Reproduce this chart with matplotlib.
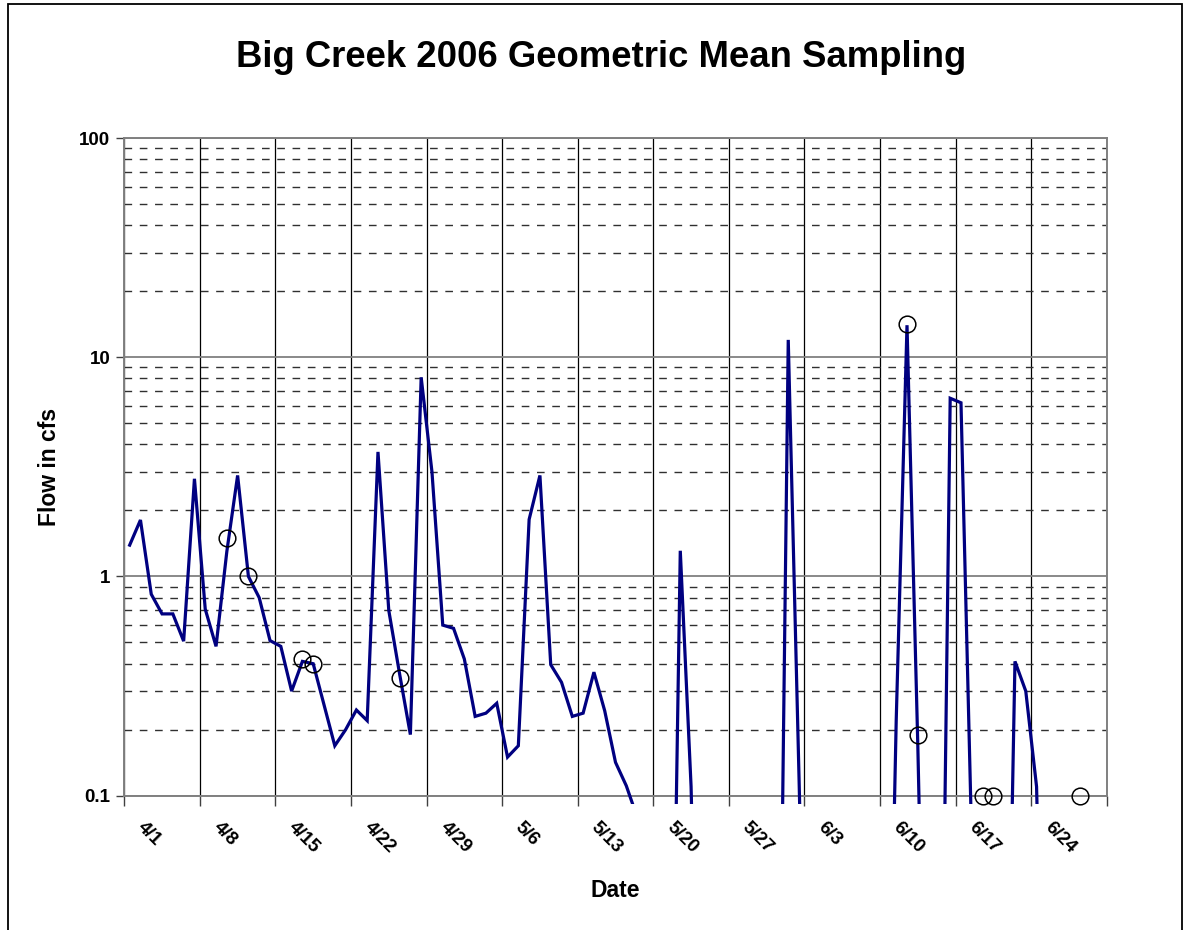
import numpy as np
import pandas as pd
import matplotlib
matplotlib.use("Agg")
import matplotlib.pyplot as plt
import matplotlib.dates as mdates
import matplotlib.transforms as mtransforms
from matplotlib.patches import Rectangle
from matplotlib.ticker import FixedLocator, FixedFormatter, NullFormatter

plt.rcParams['font.family'] = ['Liberation Sans', 'DejaVu Sans']
plt.rcParams['font.weight'] = 'bold'

# daily flow (cfs), starting 4/1/2006 -- values below 0.1 are off the chart
start = "2006-04-01"
flow = [1.39, 1.81, 0.83, 0.675, 0.675, 0.507, 2.79, 0.71, 0.48, 1.3,
        2.89, 1.0, 0.80, 0.51, 0.48, 0.30, 0.41, 0.40, 0.26, 0.169,
        0.20, 0.246, 0.22, 3.70, 0.70, 0.36, 0.19, 8.1, 3.0, 0.60,
        0.58, 0.42, 0.23, 0.238, 0.264, 0.15, 0.169, 1.82, 2.89, 0.396,
        0.329, 0.23, 0.238, 0.366, 0.244, 0.142, 0.111, 0.08, 0.001, 0.001,
        0.001, 1.31, 0.11, 0.001, 0.001, 0.001, 0.001, 0.001, 0.001, 0.001,
        0.001, 12.0, 0.12, 0.001, 0.001, 0.001, 0.001, 0.001, 0.001, 0.001,
        0.001, 0.22, 14.0, 0.17, 0.001, 0.001, 6.5, 6.2, 0.06, 0.001,
        0.001, 0.001, 0.41, 0.30, 0.11, 0.001, 0.001, 0.001, 0.001, 0.001,
        0.001]

# geometric mean samples
sample_dates = ["4/10", "4/12", "4/17", "4/18", "4/26", "6/12", "6/13", "6/19", "6/20", "6/28"]
sample_vals = [1.5, 1.0, 0.42, 0.40, 0.345, 14.2, 0.19, 0.1, 0.1, 0.1]

week_labels = ["4/1", "4/8", "4/15", "4/22", "4/29", "5/6", "5/13", "5/20",
               "5/27", "6/3", "6/10", "6/17", "6/24", ""]

flow_x = mdates.date2num(pd.date_range(start, periods=len(flow)) + pd.Timedelta(hours=12))
samp_x = mdates.date2num([pd.Timestamp("2006/" + d) + pd.Timedelta(hours=12) for d in sample_dates])
tick_x = mdates.date2num(pd.date_range(start, periods=len(week_labels), freq="7D"))

fig = plt.figure(figsize=(11.88, 9.30), dpi=100)
fig.patches.append(Rectangle((0.0065, -0.05), 0.9885, 1.046, transform=fig.transFigure,
                             fill=False, edgecolor="black", linewidth=1.3))

ax = fig.add_axes([0.1046, 0.1444, 0.8270, 0.7072])
ax.set_yscale("log")
ax.set_ylim(0.1, 100)
ax.set_xlim(tick_x[0], tick_x[-1])

ln, = ax.plot(flow_x, flow, color="#000080", linewidth=2.3, zorder=3,
              solid_joinstyle="miter")
clip = Rectangle((0, -0.013), 1, 1.013, transform=ax.transAxes, visible=False)
ax.add_patch(clip)
ln.set_clip_path(clip)

ax.plot(samp_x, sample_vals, linestyle="none", marker="o", markersize=12,
        markerfacecolor="none", markeredgecolor="black", markeredgewidth=1.1,
        zorder=4, clip_on=False)

# gridlines
ax.yaxis.set_major_locator(FixedLocator([0.1, 1, 10, 100]))
ax.yaxis.set_major_formatter(FixedFormatter(["0.1", "1", "10", "100"]))
ax.yaxis.set_minor_locator(FixedLocator([m * 10.0 ** e for e in (-1, 0, 1) for m in range(2, 10)]))
ax.yaxis.set_minor_formatter(NullFormatter())
ax.grid(True, axis="y", which="major", color="#808080", linewidth=1.3)
ax.grid(True, axis="y", which="minor", color="#303030", linewidth=1.0, linestyle=(0, (5.5, 5.5)))
ax.set_xticks(tick_x)
ax.set_xticklabels(week_labels, rotation=-45, ha="left", va="center",
                   rotation_mode="anchor", fontsize=13.5, fontweight="bold")
ax.grid(True, axis="x", which="major", color="black", linewidth=0.9)
ax.set_axisbelow(True)

ax.tick_params(axis="x", direction="out", length=7, width=1, color="#404040", pad=14)
ax.tick_params(axis="y", which="major", direction="out", length=6, width=1, color="#404040",
               labelsize=13.5, pad=4)
ax.tick_params(axis="y", which="minor", length=0)
for lab in ax.get_yticklabels():
    lab.set_fontweight("bold")

# push the slanted date labels a bit right of their ticks, like the original
shift = mtransforms.ScaledTranslation(16 / 100, 0, fig.dpi_scale_trans)
for t in ax.xaxis.get_major_ticks():
    t.label1.set_transform(t.label1.get_transform() + shift)

for s in ax.spines.values():
    s.set_color("#808080")
    s.set_linewidth(1.4)

ax.set_xlabel("Date", fontsize=16.5, fontweight="bold")
ax.set_ylabel("Flow in cfs", fontsize=16.5, fontweight="bold")
ax.xaxis.set_label_coords(0.5, -0.1434)
ax.xaxis.label.set_va("center")
ax.yaxis.set_label_coords(-0.0765, 0.5)
ax.yaxis.label.set_va("center")
fig.suptitle("Big Creek 2006 Geometric Mean Sampling", x=0.506, y=0.957,
             fontsize=26.3, fontweight="bold")

fig.savefig("out.png", dpi=100)
